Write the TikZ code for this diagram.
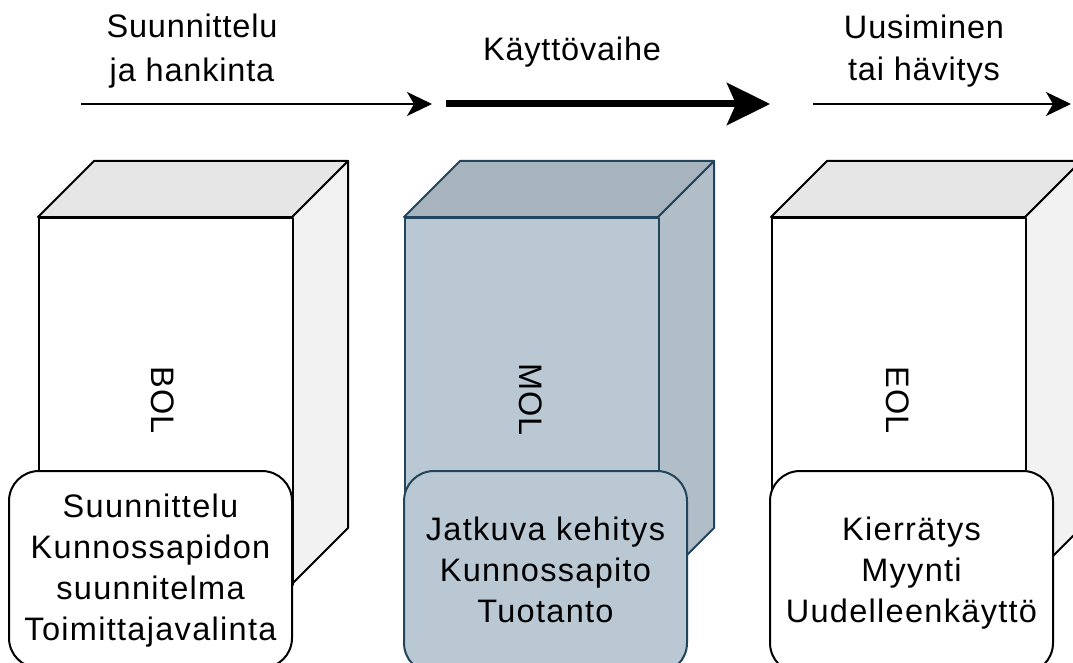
\documentclass[tikz,border=0pt]{standalone}
\usepackage{fontspec}
\setmainfont{Liberation Sans}
\newfontfamily\lblfont[LetterSpace=2.5]{Liberation Sans}
\newfontfamily\boxfont[LetterSpace=4]{Liberation Sans}
\usetikzlibrary{arrows.meta}
\definecolor{molfill}{HTML}{BAC8D3}
\definecolor{moltop}{HTML}{A7B4BE}
\definecolor{molside}{HTML}{B1BEC8}
\definecolor{molstroke}{HTML}{23445D}
\definecolor{wtop}{HTML}{E6E6E6}
\definecolor{wside}{HTML}{F2F2F2}
\newcommand\mystr{\rule[-8pt]{0pt}{34pt}}
\newcommand\drawcube[6]{%
  \filldraw[fill=#5, draw=#6, line width=2pt] (#2+254,217) -- (#2+310,161) -- (#2+310,528) -- (#2+254,584) -- cycle;
  \filldraw[fill=#4, draw=#6, line width=2pt] (#2,217) -- (#2+56,161) -- (#2+310,161) -- (#2+254,217) -- cycle;
  \node[draw=#6, fill=#3, line width=2pt, minimum width=254pt, minimum height=367pt, inner sep=0pt, anchor=north west] (#1) at (#2,217) {};
}
\begin{document}
\begin{tikzpicture}[x=1pt,y=-1pt, line join=round,
  toptxt/.style={font=\lblfont\fontsize{32.5}{44}\selectfont, inner sep=0pt, align=center},
  toptxtb/.style={font=\lblfont\fontsize{32.5}{42}\selectfont, inner sep=0pt, align=center},
  boxtxt/.style={font=\boxfont\fontsize{32.5}{41}\selectfont, inner sep=0pt, align=center},
  sidetxt/.style={font=\lblfont\fontsize{32.5}{38}\selectfont, inner sep=0pt, rotate=-90},
  infobox/.style={draw, line width=2pt, rounded corners=30pt, minimum width=283pt, inner sep=0pt, boxtxt},
  thinarrow/.style={line width=2pt, -{Stealth[length=25pt,width=24pt,inset=7pt]}},
  thickarrow/.style={line width=7pt, -{Stealth[length=43pt,width=42pt,inset=9pt]}}]
\useasboundingbox (0,0) rectangle (1073,663);

% top labels and arrows
\node[toptxt] (l1) at (192,50.5) {\mystr Suunnittelu\\\mystr ja hankinta};
\node[toptxt] (l2) at (572,51.7) {\mystr Käyttövaihe};
\node[toptxtb] (l3) at (924,50.2) {\mystr Uusiminen\\\mystr tai hävitys};
\coordinate (a1s) at (81,104);  \coordinate (a1e) at (432,104);
\coordinate (a2s) at (446,104); \coordinate (a2e) at (770,104);
\coordinate (a3s) at (813,104); \coordinate (a3e) at (1071,104);
\draw[thinarrow] (a1s) -- (a1e);
\draw[thickarrow] (a2s) -- (a2e);
\draw[thinarrow] (a3s) -- (a3e);

% cubes
\drawcube{bol}{38}{white}{wtop}{wside}{black}
\drawcube{mol}{404}{molfill}{moltop}{molside}{molstroke}
\drawcube{eol}{771}{white}{wtop}{wside}{black}
\node[sidetxt] (boltxt) at (163,400) {BOL};
\node[sidetxt] (moltxt) at (531,400) {MOL};
\node[sidetxt] (eoltxt) at (898,400) {EOL};

% info boxes
\node[infobox, fill=white, minimum height=197pt] (bolbox) at (150.5,569.5)
  {\mystr Suunnittelu\\\mystr Kunnossapidon\\\mystr suunnitelma\\\mystr Toimittajavalinta};
\node[infobox, fill=molfill, draw=molstroke, minimum height=202pt] (molbox) at (545.5,572)
  {\mystr Jatkuva kehitys\\\mystr Kunnossapito\\\mystr Tuotanto};
\node[infobox, fill=white, minimum height=202pt] (eolbox) at (911.5,572)
  {\mystr Kierrätys\\\mystr Myynti\\\mystr Uudelleenkäyttö};
\end{tikzpicture}
\end{document}
